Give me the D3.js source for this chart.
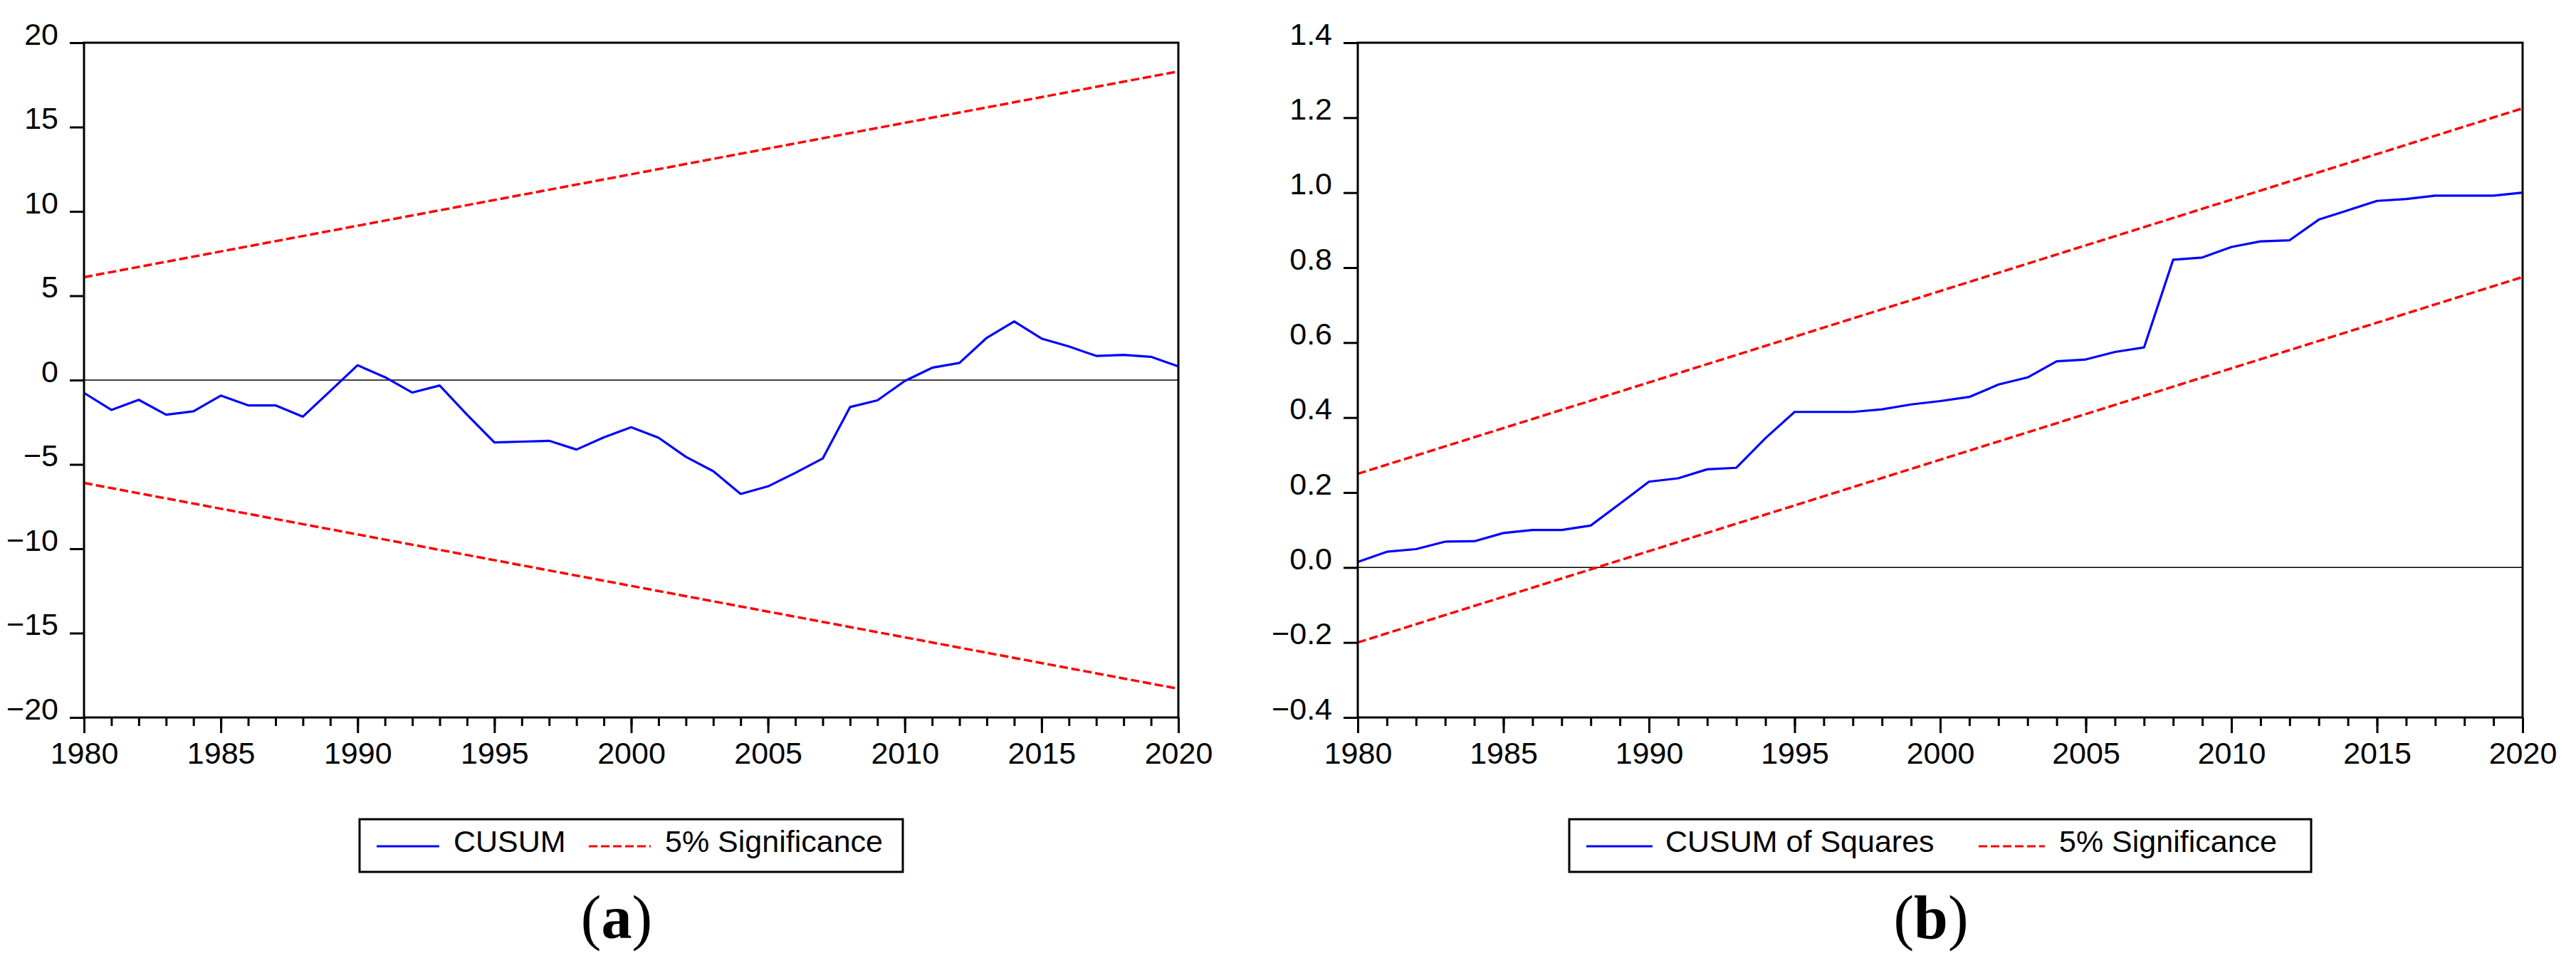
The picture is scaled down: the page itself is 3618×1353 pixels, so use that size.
<!DOCTYPE html>
<html>
<head>
<meta charset="utf-8">
<script src="https://cdn.jsdelivr.net/npm/d3@7"></script>
<style>
  html, body { margin: 0; padding: 0; background: #fff; }
  svg { display: block; }
</style>
</head>
<body>
<div id="chart"></div>
<script>
const years = d3.range(1980, 2021);
const majorYears = [1980, 1985, 1990, 1995, 2000, 2005, 2010, 2015, 2020];

const cusum = [
  -0.76, -1.77, -1.17, -2.05, -1.85, -0.92, -1.5, -1.5, -2.17, -0.65,
  0.88, 0.17, -0.74, -0.32, -2.05, -3.7, -3.65, -3.6, -4.12, -3.4,
  -2.8, -3.42, -4.55, -5.4, -6.75, -6.3, -5.5, -4.65, -1.6, -1.2,
  -0.05, 0.73, 1.02, 2.51, 3.48, 2.46, 1.99, 1.43, 1.49, 1.38, 0.81
];
const cusumSq = [
  0.015, 0.042, 0.049, 0.069, 0.07, 0.092, 0.1, 0.1, 0.112, 0.17,
  0.229, 0.238, 0.262, 0.266, 0.345, 0.415, 0.415, 0.415, 0.422, 0.435,
  0.444, 0.455, 0.488, 0.507, 0.55, 0.555, 0.575, 0.587, 0.821, 0.827,
  0.855, 0.87, 0.873, 0.928, 0.953, 0.978, 0.983, 0.992, 0.992, 0.992, 1.0
];

// 5% significance bands, start and end of the sample
const boundYears = [1980, 2020];
const cusumUpper = [6.1, 18.3];
const cusumLower = [-6.1, -18.3];
const sqUpper = [0.25, 1.225];
const sqLower = [-0.2, 0.775];

const cusumTicks = [-20, -15, -10, -5, 0, 5, 10, 15, 20];
const sqTicks = [-0.4, -0.2, 0.0, 0.2, 0.4, 0.6, 0.8, 1.0, 1.2, 1.4];

const width = 3618, height = 1353;
const font = '"Liberation Sans", Arial, sans-serif';

const svg = d3.select('#chart').append('svg')
  .attr('width', width)
  .attr('height', height)
  .style('font-family', font);

function drawPanel(p) {
  const x = d3.scaleLinear().domain([1980, 2020]).range([p.left, p.right]);
  const y = d3.scaleLinear().domain(p.yDomain).range([p.bottom, p.top]);
  const g = svg.append('g');

  // zero line
  g.append('line')
    .attr('x1', p.left).attr('x2', p.right)
    .attr('y1', y(0)).attr('y2', y(0))
    .attr('stroke', '#000').attr('stroke-width', 1.5);

  // y axis
  const yAxis = g.append('g')
    .attr('transform', `translate(${p.left},0)`)
    .call(d3.axisLeft(y).tickValues(p.yTicks).tickSize(20).tickPadding(16).tickFormat(p.fmt));
  yAxis.select('.domain').remove();
  yAxis.selectAll('.tick line').attr('stroke', '#000').attr('stroke-width', 3);
  yAxis.selectAll('.tick text')
    .attr('dy', null).attr('y', 2)
    .style('font-family', font).style('font-size', '43px').attr('fill', '#000');

  // x axis, minor then major ticks
  const xMinor = g.append('g')
    .attr('transform', `translate(0,${p.bottom})`)
    .call(d3.axisBottom(x).tickValues(years).tickSize(12).tickFormat(''));
  xMinor.select('.domain').remove();
  xMinor.selectAll('.tick line').attr('stroke', '#000').attr('stroke-width', 3);

  const xMajor = g.append('g')
    .attr('transform', `translate(0,${p.bottom})`)
    .call(d3.axisBottom(x).tickValues(majorYears).tickSize(22).tickFormat(d3.format('d')));
  xMajor.select('.domain').remove();
  xMajor.selectAll('.tick line').attr('stroke', '#000').attr('stroke-width', 3);
  xMajor.selectAll('.tick text')
    .attr('dy', null).attr('y', 65)
    .style('font-family', font).style('font-size', '43px').attr('fill', '#000');

  // bands
  const band = d3.line().x((d, i) => x(boundYears[i])).y(d => y(d));
  [p.upper, p.lower].forEach(b => {
    g.append('path')
      .attr('d', band(b))
      .attr('fill', 'none')
      .attr('stroke', '#ff0000')
      .attr('stroke-width', 3.5)
      .attr('stroke-dasharray', '12,5');
  });

  // statistic
  const line = d3.line().x((d, i) => x(years[i])).y(d => y(d));
  g.append('path')
    .attr('d', line(p.values))
    .attr('fill', 'none')
    .attr('stroke', '#0000ff')
    .attr('stroke-width', 3.2)
    .attr('stroke-linejoin', 'round');

  // frame
  g.append('rect')
    .attr('x', p.left).attr('y', p.top)
    .attr('width', p.right - p.left).attr('height', p.bottom - p.top)
    .attr('fill', 'none').attr('stroke', '#000').attr('stroke-width', 3);

  // legend
  const lg = p.legend;
  g.append('rect')
    .attr('x', lg.x0).attr('y', 1151)
    .attr('width', lg.x1 - lg.x0).attr('height', 74)
    .attr('fill', '#fff').attr('stroke', '#000').attr('stroke-width', 3);
  g.append('line')
    .attr('x1', lg.blue[0]).attr('x2', lg.blue[1])
    .attr('y1', 1189).attr('y2', 1189)
    .attr('stroke', '#0000ff').attr('stroke-width', 3);
  g.append('text')
    .attr('x', lg.blueText).attr('y', 1197)
    .style('font-size', '43px').text(p.label);
  g.append('line')
    .attr('x1', lg.red[0]).attr('x2', lg.red[1])
    .attr('y1', 1189).attr('y2', 1189)
    .attr('stroke', '#ff0000').attr('stroke-width', 3)
    .attr('stroke-dasharray', '12,5');
  g.append('text')
    .attr('x', lg.redText).attr('y', 1197)
    .style('font-size', '43px').text('5% Significance');

  // panel caption
  const cap = g.append('text')
    .attr('x', p.capX).attr('y', 1318)
    .attr('text-anchor', 'middle')
    .style('font-family', '"Liberation Serif", "Times New Roman", serif')
    .style('font-size', '86px');
  cap.append('tspan').text('(');
  cap.append('tspan').style('font-weight', 'bold').text(p.letter);
  cap.append('tspan').text(')');
}

drawPanel({
  left: 118, right: 1655, top: 60, bottom: 1008,
  yDomain: [-20, 20], yTicks: cusumTicks, fmt: d3.format('d'),
  values: cusum, upper: cusumUpper, lower: cusumLower,
  label: 'CUSUM', letter: 'a', capX: 866,
  legend: { x0: 505, x1: 1268, blue: [529, 617], blueText: 637, red: [827, 914], redText: 934 }
});

drawPanel({
  left: 1907, right: 3543, top: 60, bottom: 1008,
  yDomain: [-0.4, 1.4], yTicks: sqTicks, fmt: d3.format('.1f'),
  values: cusumSq, upper: sqUpper, lower: sqLower,
  label: 'CUSUM of Squares', letter: 'b', capX: 2712,
  legend: { x0: 2204, x1: 3246, blue: [2228, 2321], blueText: 2339, red: [2779, 2872], redText: 2892 }
});
</script>
</body>
</html>
